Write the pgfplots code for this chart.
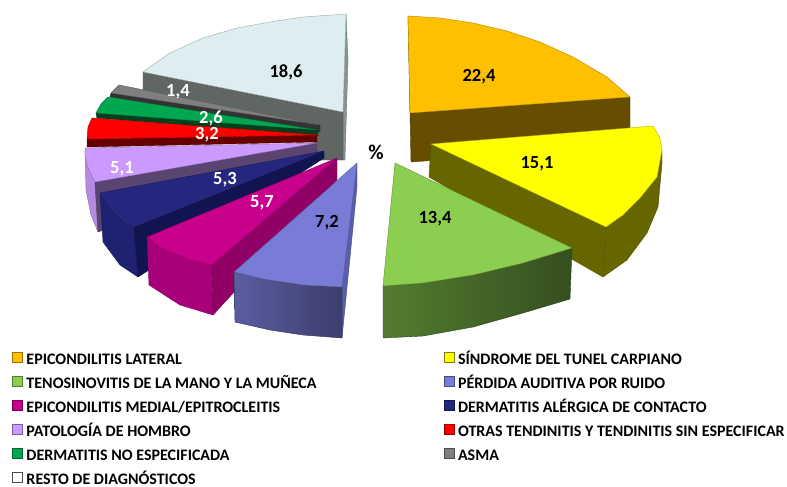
\documentclass[border=0pt]{standalone}
\usepackage{fontspec}
\setmainfont{Carlito}
\usepackage{pgfplots}
\pgfplotsset{compat=1.18}

\definecolor{cOrange}{HTML}{FFC000}
\definecolor{cOrangeW}{HTML}{664D00}
\definecolor{cYellow}{HTML}{FFFF00}
\definecolor{cYellowW}{HTML}{666600}
\definecolor{cLime}{HTML}{8CCF50}
\definecolor{cPeri}{HTML}{787CD6}
\definecolor{cPeriW}{HTML}{5A5DA8}
\definecolor{cMag}{HTML}{C8008C}
\definecolor{cMagF}{HTML}{A80078}
\definecolor{cMagW}{HTML}{900065}
\definecolor{cNavy}{HTML}{25277F}
\definecolor{cNavyF}{HTML}{1F2270}
\definecolor{cNavyW}{HTML}{101450}
\definecolor{cLila}{HTML}{CC99FF}
\definecolor{cLilaF}{HTML}{B48BE0}
\definecolor{cLilaW}{HTML}{5A4470}
\definecolor{cRed}{HTML}{FF0000}
\definecolor{cRedW}{HTML}{660000}
\definecolor{cGreen}{HTML}{00A650}
\definecolor{cGreenW}{HTML}{00401C}
\definecolor{cGrey}{HTML}{7F7F7F}
\definecolor{cGreyW}{HTML}{333333}
\definecolor{cRest}{HTML}{DEEDEF}
\definecolor{cRestW}{HTML}{5F6664}
\definecolor{cRestS}{HTML}{8A9294}

\pgfplotsset{
  face/.style={fill=#1, draw=#1!70!black, line width=0.4pt, line join=round, forget plot},
  wall/.style={fill=#1, draw=#1!80!black, line width=0.4pt, line join=round, forget plot},
  swatch/.style={legend image code/.code={\draw[##1, line width=0.5pt] (0pt,-1pt) rectangle (10pt,9pt);}},
}
\newcommand{\val}[4][black]{\node[text=#1, inner sep=0pt, text height=11.5pt, text depth=0pt, font=\fontsize{18.5}{20}\selectfont\bfseries] at (axis cs:#2,#3) {#4};}

\begin{document}
\begin{tikzpicture}
\path[use as bounding box] (0,0) rectangle (787pt,487pt);
\begin{axis}[
    at={(0,0)}, anchor=south west,
    scale only axis, width=787pt, height=487pt,
    xmin=0, xmax=787, ymin=0, ymax=487,
    y dir=reverse,
    hide axis, clip=false,
    legend columns=2,
    legend cell align=left,
    legend style={
      at={(axis cs:12,352)}, anchor=north west,
      draw=none, fill=none, inner sep=0pt, outer sep=0pt,
      font=\fontsize{16}{17}\selectfont\bfseries,
      row sep=8.2pt,
      nodes={inner sep=0pt, text height=10pt, text depth=3pt},
      /tikz/every odd column/.append style={column sep=4pt},
      /tikz/every even column/.append style={column sep=127pt},
    },
]
% legend, in the order of the chart
\addlegendimage{swatch, fill=cOrange, draw=cOrange!60!black}
\addlegendimage{swatch, fill=cYellow, draw=cYellow!50!black}
\addlegendimage{swatch, fill=cLime, draw=cLime!60!black}
\addlegendimage{swatch, fill=cPeri, draw=cPeri!60!black}
\addlegendimage{swatch, fill=cMag, draw=cMag!60!black}
\addlegendimage{swatch, fill=cNavy, draw=cNavy!60!black}
\addlegendimage{swatch, fill=cLila, draw=cLila!60!black}
\addlegendimage{swatch, fill=cRed, draw=cRed!60!black}
\addlegendimage{swatch, fill=cGreen, draw=cGreen!60!black}
\addlegendimage{swatch, fill=cGrey, draw=cGrey!60!black}
\addlegendimage{swatch, fill=white, draw=black!70}
\legend{EPICONDILITIS LATERAL,S\'INDROME DEL TUNEL CARPIANO,TENOSINOVITIS DE LA MANO Y LA MU\~NECA,P\'ERDIDA AUDITIVA POR RUIDO,EPICONDILITIS MEDIAL/EPITROCLEITIS,DERMATITIS AL\'ERGICA DE CONTACTO,PATOLOG\'IA DE HOMBRO,OTRAS TENDINITIS Y TENDINITIS SIN ESPECIFICAR,DERMATITIS NO ESPECIFICADA,ASMA,RESTO DE DIAGN\'OSTICOS}

% resto
\addplot[wall=cRestS] coordinates {(346,14)(348,60)(345,160)(343,160)(343,112)(346,14)};
\addplot[wall=cRestW] coordinates {(143,72)(343,112)(343,160)(314,160)(314,124)(143,92)(143,72)};
\addplot[face=cRest] coordinates {(343,112)(143,72)(170,53)(203,38)(237,28)(270,22)(303,17)(346,14)(343,112)};
% asma
\addplot[wall=cGreyW] coordinates {(111,93)(320,125)(320,132)(110,97)(111,93)};
\addplot[face=cGrey] coordinates {(320,125)(111,93)(119,85)(320,125)};
% dermatitis no especificada
\addplot[wall=cGreenW] coordinates {(96,113)(318,130)(318,136)(97,118)(96,113)};
\addplot[face=cGreen] coordinates {(318,130)(96,113)(101,104)(108,97)(318,130)};
% otras tendinitis
\addplot[wall=cRedW] coordinates {(87,139)(317,135)(317,142)(87,147)(87,139)};
\addplot[face=cRed] coordinates {(318,135)(87,139)(88,127)(92,118)(318,135)};
% hombro
\addplot[wall=cLilaF] coordinates {(85,150)(95,182)(98,232)(91,215)(86,190)(85,150)};
\addplot[wall=cLilaW] coordinates {(95,182)(317,143)(317,152)(98,232)(95,182)};
\addplot[face=cLila] coordinates {(317,143)(85,148)(85,155)(87,165)(91,174)(95,182)(317,143)};
% dermatitis alergica
\addplot[wall=cNavyF] coordinates {(100,193)(103,242)(120,265)(138,277)(134,227)(123,222)(113,212)(100,193)};
\addplot[wall=cNavyW] coordinates {(324,151)(134,227)(138,277)(324,158)(324,151)};
\addplot[face=cNavy] coordinates {(324,151)(100,193)(106,204)(113,212)(123,222)(134,227)(324,151)};
% epicondilitis medial
\addplot[wall=cMagF] coordinates {(147,237)(149,285)(180,305)(213,315)(212,265)(190,258)(170,250)(147,237)};
\addplot[wall=cMagW] coordinates {(337,158)(212,265)(213,315)(337,180)(337,158)};
\addplot[face=cMag] coordinates {(337,158)(147,237)(158,246)(170,252)(190,260)(212,265)(337,158)};
% perdida auditiva
\addplot[wall=cPeriW] coordinates {(357,163)(357,187)(342,338)(342,287)(357,163)};
\addplot[shade, left color=cPeri!75!black, right color=cPeri!50!black, draw=cPeri!40!black, line width=0.4pt, forget plot]
  coordinates {(234,272)(235,322)(270,330)(303,335)(342,338)(342,287)(303,285)(263,279)(234,272)};
\addplot[face=cPeri] coordinates {(357,163)(234,272)(263,279)(303,285)(342,287)(357,163)};
% epicondilitis lateral
\addplot[wall=cOrangeW] coordinates {(408,16)(410,113)(630,97)(630,146)(411,162)(408,16)};
\addplot[face=cOrange] coordinates {(410,113)(408,16)(440,18)(473,23)(507,31)(540,42)(573,57)(607,77)(630,97)(410,113)};
% tunel carpiano
\addplot[wall=cYellowW] coordinates {(431,144)(429,177)(603,277)(606,227)(431,144)};
\addplot[wall=cYellowW] coordinates {(606,227)(603,277)(627,260)(647,233)(658,207)(662,163)(662,150)(657,177)(640,198)(623,215)(606,227)};
\addplot[face=cYellow] coordinates {(431,144)(653,126)(660,138)(662,150)(657,177)(640,198)(623,215)(606,227)(431,144)};
% tenosinovitis
\addplot[shade, left color=cLime!60!black, right color=cLime!38!black, draw=cLime!30!black, line width=0.4pt, forget plot]
  coordinates {(383,286)(383,338)(423,336)(473,327)(523,313)(570,299)(572,248)(523,263)(473,275)(423,283)(383,286)};
\addplot[face=cLime] coordinates {(395,163)(383,286)(423,283)(473,275)(523,263)(572,248)(395,163)};

\val{479}{76}{22,4}
\val{537}{163}{15,1}
\val{435}{218}{13,4}
\val{327}{222}{7,2}
\val[white]{262}{202}{5,7}
\val[white]{225}{179}{5,3}
\val[white]{122}{168}{5,1}
\val[white]{207}{134}{3,2}
\val[white]{211}{118}{2,6}
\val[white]{178}{91}{1,4}
\val{286}{72}{18,6}
\node[font=\fontsize{21}{23}\selectfont\bfseries] at (axis cs:376,152) {\%};
\end{axis}
\end{tikzpicture}
\end{document}
